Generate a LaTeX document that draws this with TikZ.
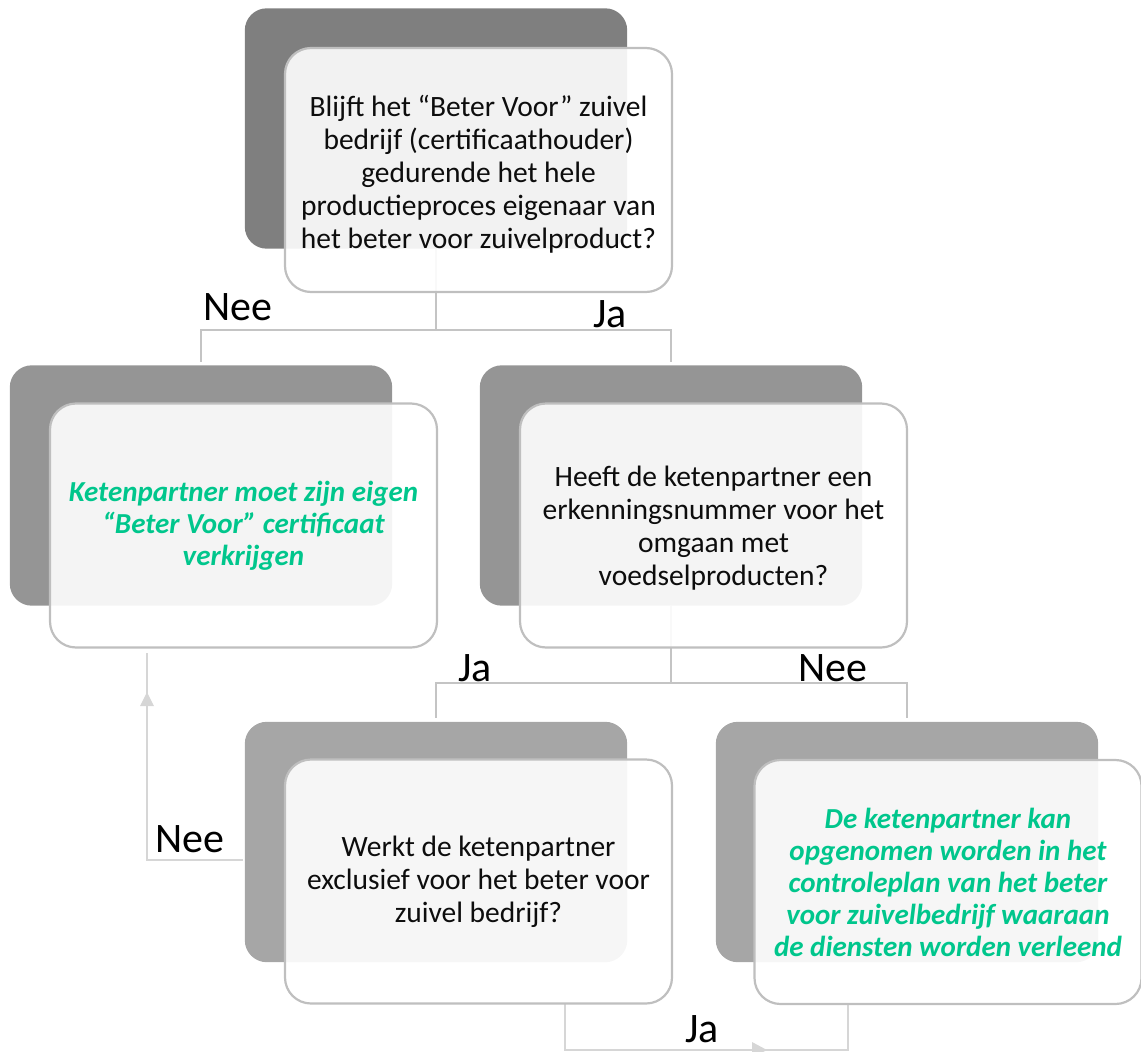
\documentclass[tikz,border=0pt]{standalone}
\usepackage{fontspec}
\setmainfont{Carlito}
\definecolor{dk1}{HTML}{7F7F7F}
\definecolor{dk2}{HTML}{959595}
\definecolor{dk3}{HTML}{A6A6A6}
\definecolor{edge}{HTML}{BFBFBF}
\definecolor{conncol}{HTML}{C4C4C4}
\definecolor{fbcol}{HTML}{D6D6D6}
\definecolor{txt}{HTML}{0D0D0D}
\definecolor{grn}{RGB}{0,198,140}
\tikzset{
  backbox/.style={rounded corners=22pt, minimum width=382pt, minimum height=240pt, inner sep=0pt},
  frontbox/.style={rounded corners=26pt, draw=edge, line width=2.2pt, fill=white, fill opacity=0.9, text opacity=1,
     minimum width=387pt, minimum height=244pt, inner sep=0pt},
  blacktxt/.style={text=txt, align=center, font=\fontsize{29.5}{33}\selectfont},
  greentxt/.style={text=grn, align=center, font=\fontsize{29}{32}\selectfont\bfseries\itshape},
  conn/.style={draw=conncol, line width=2pt},
  fb/.style={draw=fbcol, line width=1.6pt},
  lbl/.style={anchor=base west, inner sep=0pt, font=\fontsize{42}{42}\selectfont}
}
\begin{document}
\begin{tikzpicture}[x=1pt,y=-1pt]
\useasboundingbox (0,0) rectangle (1141,1052);
% coordinates for connectors
\coordinate (h1) at (436,330);
\coordinate (h2) at (671,683);
\coordinate (n1) at (243,860);
\coordinate (n2) at (147,860);
\coordinate (n3) at (147,653);
\coordinate (j1) at (565,1003);
\coordinate (j2) at (565,1050);
\coordinate (j3) at (848,1050);
\coordinate (j4) at (848,1005);
% back boxes (named, invisible, for anchors)
\node[backbox] (tb) at (436,128.5) {};
\node[backbox] (mlb) at (201,485.5) {};
\node[backbox] (mrb) at (671,485.5) {};
\node[backbox] (blb) at (436,842) {};
\node[backbox] (brb) at (907,842) {};
% connectors
\draw[conn] (tb.south) -- (h1) -| ([yshift=3pt]mlb.north);
\draw[conn] (h1) -| ([yshift=3pt]mrb.north);
\draw[conn] (mrb.south) -- (h2) -| ([yshift=4pt]blb.north);
\draw[conn] (h2) -| ([yshift=4pt]brb.north);
\draw[fb] (n1) -- (n2) -- (n3);
\fill[fbcol] (140,706) -- (154,706) -- (147,692) -- cycle;
\draw[fb] (j1) -- (j2) -- (j3) -- (j4);
\fill[fbcol] (752,1042) -- (767,1050) -- (752,1058) -- cycle;
% back boxes drawn over connectors
\fill[dk1, rounded corners=22pt] (tb.south west) rectangle (tb.north east);
\fill[dk2, rounded corners=22pt] (mlb.south west) rectangle (mlb.north east);
\fill[dk2, rounded corners=22pt] (mrb.south west) rectangle (mrb.north east);
\fill[dk3, rounded corners=22pt] (blb.south west) rectangle (blb.north east);
\fill[dk3, rounded corners=22pt] (brb.south west) rectangle (brb.north east);
% front boxes
\node[frontbox] (tf) at (478.5,170) {};
\node[frontbox] (mlf) at (243.5,525.5) {};
\node[frontbox] (mrf) at (713.5,525.5) {};
\node[frontbox] (blf) at (478.5,881.5) {};
\node[frontbox] (brf) at (948,882) {};
% texts
\node[blacktxt] (tt) at ([yshift=-4pt]tf.center) {Blijft het “Beter Voor” zuivel\\bedrijf (certificaathouder)\\gedurende het hele\\productieproces eigenaar van\\het beter voor zuivelproduct?};
\node[greentxt] (mlt) at (mlf) {Ketenpartner moet zijn eigen\\“Beter Voor” certificaat\\verkrijgen};
\node[blacktxt] (mrt) at ([yshift=-3pt]mrf.center) {Heeft de ketenpartner een\\erkenningsnummer voor het\\omgaan met\\voedselproducten?};
\node[blacktxt] (blt) at (blf) {Werkt de ketenpartner\\exclusief voor het beter voor\\zuivel bedrijf?};
\node[greentxt] (brt) at (brf) {De ketenpartner kan\\opgenomen worden in het\\controleplan van het beter\\voor zuivelbedrijf waaraan\\de diensten worden verleend};
% labels
\node[lbl] (l1) at (203,320) {Nee};
\node[lbl] (l2) at (593,327) {Ja};
\node[lbl] (l3) at (458,681) {Ja};
\node[lbl] (l4) at (798,681) {Nee};
\node[lbl] (l5) at (155,852) {Nee};
\node[lbl] (l6) at (685,1042) {Ja};
\end{tikzpicture}
\end{document}
